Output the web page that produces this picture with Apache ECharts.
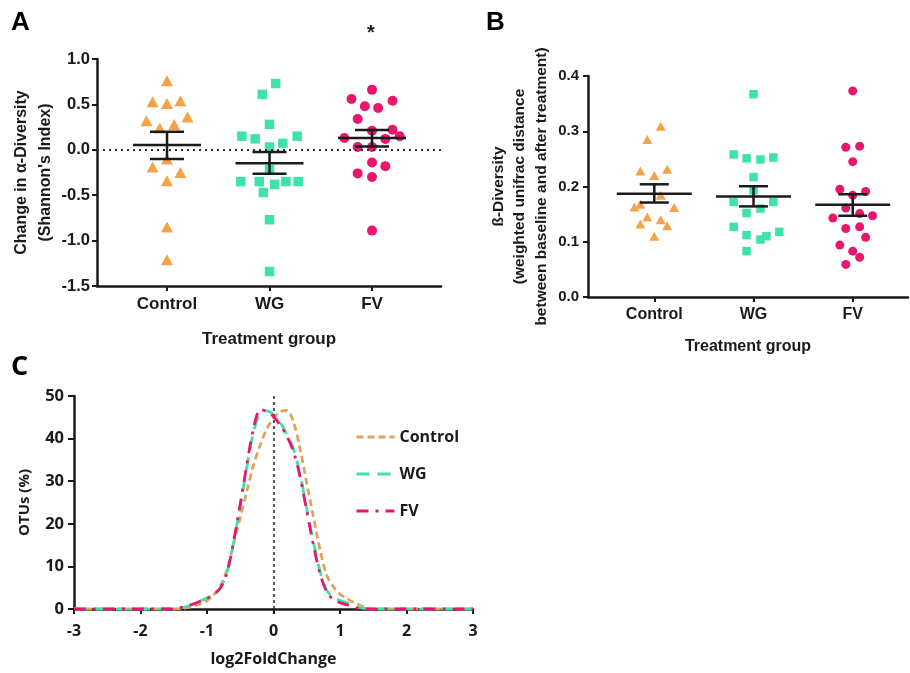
<!DOCTYPE html>
<html>
<head>
<meta charset="utf-8">
<script src="https://cdn.jsdelivr.net/npm/echarts@6/dist/echarts.min.js"></script>
<style>
  html, body { margin: 0; padding: 0; background: #fff; }
  #chart { width: 910px; height: 673px; }
</style>
</head>
<body>
<div id="chart"></div>
<script>
// groups on the x axis of panels A and B
const groups = ['Control', 'WG', 'FV']

// panel A: change in alpha diversity, one value per subject, jitter = horizontal spread in the swarm
const controlA = [0.76, 0.53, 0.51, 0.54, 0.32, 0.36, 0.24, 0.28, -0.10, -0.19, -0.25, -0.34, -0.85, -1.21]
const controlAJitter = [0, -0.14, 0, 0.13, -0.2, 0.2, -0.07, 0.07, 0, -0.14, 0.13, 0, 0, 0]
const wgA = [0.73, 0.61, 0.28, 0.15, 0.12, 0.15, 0.07, 0.03, -0.22, -0.35, -0.35, -0.35, -0.35, -0.38, -0.47, -0.77, -1.34]
const wgAJitter = [0.06, -0.07, 0, -0.27, -0.14, 0.27, 0.13, 0, 0, -0.28, -0.1, 0.16, 0.28, 0.05, -0.06, 0, 0]
const fvA = [0.66, 0.56, 0.54, 0.48, 0.46, 0.34, 0.21, 0.22, 0.15, 0.13, 0.12, 0.03, 0.03, -0.14, -0.18, -0.26, -0.30, -0.89]
const fvAJitter = [0, -0.2, 0.2, -0.07, 0.06, -0.14, 0, 0.2, 0.27, -0.27, 0.13, -0.14, 0, 0, 0.13, -0.14, 0, 0]
const meanA = [0.052, -0.147, 0.129]
const semLowA = [-0.10, -0.264, 0.036]
const semHighA = [0.198, -0.025, 0.217]
const ticksA = [-1.5, -1.0, -0.5, 0.0, 0.5, 1.0]

// panel B: beta diversity
const controlB = [0.309, 0.285, 0.228, 0.231, 0.22, 0.184, 0.163, 0.168, 0.162, 0.145, 0.14, 0.132, 0.129, 0.11]
const controlBJitter = [0.065, -0.07, -0.14, 0.13, 0, 0.065, -0.2, -0.14, 0.2, -0.07, 0.065, -0.14, 0.13, 0]
const wgB = [0.367, 0.258, 0.251, 0.249, 0.2525, 0.217, 0.193, 0.172, 0.172, 0.152, 0.16, 0.127, 0.118, 0.112, 0.104, 0.11, 0.083]
const wgBJitter = [0, -0.2, -0.07, 0.07, 0.2, 0, 0, -0.2, 0.2, -0.07, 0.07, -0.2, 0.26, -0.07, 0.07, 0.13, -0.07]
const fvB = [0.373, 0.271, 0.273, 0.245, 0.195, 0.191, 0.184, 0.161, 0.151, 0.143, 0.147, 0.124, 0.127, 0.108, 0.094, 0.083, 0.072, 0.059]
const fvBJitter = [0, -0.07, 0.07, 0, -0.13, 0.13, 0, -0.07, 0.07, -0.2, 0.2, -0.07, 0.07, 0.13, -0.13, 0, 0.07, -0.07]
const meanB = [0.187, 0.182, 0.167]
const semLowB = [0.171, 0.164, 0.147]
const semHighB = [0.204, 0.2005, 0.186]

// panel C: OTU distribution over log2 fold change
const foldC = [-3, -2, -1.5, -1.4, -1.3, -1.2, -1.1, -1.0, -0.9, -0.8, -0.7, -0.6, -0.5, -0.4, -0.3, -0.2, -0.1, 0,
  0.1, 0.2, 0.3, 0.4, 0.5, 0.6, 0.7, 0.8, 0.9, 1.0, 1.1, 1.2, 1.3, 1.4, 1.5, 2, 3]
const controlC = [0, 0, 0, 0.1, 0.3, 0.7, 1.2, 2.0, 3.3, 5.3, 9.2, 15.2, 21.5, 27.7, 33.8, 38.5, 42.3, 44.8,
  46.3, 46.6, 44.0, 37.5, 29.5, 21.6, 13.9, 7.9, 5.2, 3.5, 2.5, 1.6, 0.9, 0.2, 0, 0, 0]
const wgC = [0, 0, 0, 0.2, 0.6, 1.2, 1.9, 2.6, 3.4, 4.9, 8.6, 15.6, 24.2, 33.4, 41.6, 46.0, 46.5, 45.6,
  43.8, 41.0, 37.6, 31.6, 23.6, 15.8, 8.9, 4.4, 2.8, 2.0, 1.5, 0.8, 0.3, 0.1, 0, 0, 0]
const fvC = [0, 0, 0, 0.3, 0.7, 1.2, 1.8, 2.5, 3.4, 4.9, 8.5, 15.8, 24.6, 34.0, 42.4, 46.8, 46.4, 45.2,
  43.2, 40.6, 37.0, 31.0, 23.0, 15.0, 8.3, 4.0, 2.2, 1.5, 1.0, 0.5, 0.1, 0, 0, 0, 0]

const ORANGE = '#f4a347'
const TEAL = '#3fe3a9'
const PINK = '#e9166e'
const INK = '#1a1a1a'
const ARIAL = 'Liberation Sans'
const CALIBRI = 'Open Sans'

function swarm(values, jitter, groupIndex) {
  return values.map((v, i) => [groupIndex + jitter[i], v])
}

function meanSemItems(mean, low, high) {
  return mean.map((m, i) => [i, m, low[i], high[i]])
}

function meanSemRender(halfMean, halfCap) {
  return function(params, api) {
    const x = api.value(0)
    const pm = api.coord([x, api.value(1)])
    const pl = api.coord([x, api.value(2)])
    const ph = api.coord([x, api.value(3)])
    const style = { stroke: INK, lineWidth: 2.5 }
    return {
      type: 'group',
      children: [
        { type: 'line', shape: { x1: pm[0] - halfMean, y1: pm[1], x2: pm[0] + halfMean, y2: pm[1] }, style },
        { type: 'line', shape: { x1: pl[0] - halfCap, y1: pl[1], x2: pl[0] + halfCap, y2: pl[1] }, style },
        { type: 'line', shape: { x1: ph[0] - halfCap, y1: ph[1], x2: ph[0] + halfCap, y2: ph[1] }, style },
        { type: 'line', shape: { x1: pl[0], y1: pl[1], x2: ph[0], y2: ph[1] }, style }
      ]
    }
  }
}

const axisLine = { show: true, onZero: false, lineStyle: { color: INK, width: 2.5 } }
const axisTick = { show: true, length: 5, lineStyle: { color: INK, width: 2 } }

function groupAxis(gridIndex, min, max, nameGap, fontSize) {
  return {
    type: 'value',
    gridIndex: gridIndex,
    min: min,
    max: max,
    name: 'Treatment group',
    nameLocation: 'middle',
    nameGap: nameGap,
    nameTextStyle: { fontFamily: ARIAL, fontWeight: 'bold', fontSize: fontSize, color: INK },
    axisLine: axisLine,
    axisTick: Object.assign({ customValues: [0, 1, 2] }, axisTick),
    axisLabel: {
      customValues: [0, 1, 2],
      formatter: v => groups[Math.round(v)],
      margin: 10,
      fontFamily: ARIAL,
      fontWeight: 'bold',
      fontSize: fontSize,
      color: INK
    },
    splitLine: { show: false }
  }
}

const chart = echarts.init(document.getElementById('chart'))

chart.setOption({
  animation: false,
  backgroundColor: '#fff',
  grid: [
    { left: 97, right: 469, top: 59, bottom: 387 },
    { left: 588, right: 2, top: 76, bottom: 376 },
    { left: 74, right: 437, top: 396, bottom: 64 }
  ],
  legend: {
    data: ['Control', 'WG', 'FV'],
    orient: 'vertical',
    left: 350,
    top: 424,
    itemWidth: 38,
    itemHeight: 14,
    itemGap: 21,
    itemStyle: { opacity: 0 },
    lineStyle: { width: 3 },
    textStyle: { fontFamily: CALIBRI, fontWeight: 'bold', fontSize: 16, color: INK }
  },
  graphic: [
    { type: 'text', left: 11, top: 10, style: { text: 'A', font: 'bold 26px "Liberation Sans"', fill: '#000' } },
    { type: 'text', left: 486, top: 10, style: { text: 'B', font: 'bold 26px "Liberation Sans"', fill: '#000' } },
    { type: 'text', left: 11, top: 354, style: { text: 'C', font: 'bold 27px "Open Sans"', fill: '#000' } },
    { type: 'text', left: 367, top: 23, style: { text: '*', font: 'bold 20px "Liberation Sans"', fill: INK } }
  ],
  xAxis: [
    groupAxis(0, -0.683, 2.673, 45, 17),
    groupAxis(1, -0.668, 2.557, 42, 16),
    {
      type: 'value',
      gridIndex: 2,
      min: -3,
      max: 3,
      interval: 1,
      name: 'log2FoldChange',
      nameLocation: 'middle',
      nameGap: 42,
      nameTextStyle: { fontFamily: CALIBRI, fontWeight: 'bold', fontSize: 16, color: INK },
      axisLine: axisLine,
      axisTick: axisTick,
      axisLabel: { margin: 14, fontFamily: CALIBRI, fontWeight: 'bold', fontSize: 16, color: INK },
      splitLine: { show: false }
    }
  ],
  yAxis: [
    {
      type: 'value',
      gridIndex: 0,
      min: -1.5,
      max: 1.0,
      interval: 0.5,
      name: 'Change in \u03b1-Diversity\n(Shannon\'s Index)',
      nameLocation: 'middle',
      nameGap: 39,
      nameTextStyle: { fontFamily: ARIAL, fontWeight: 'bold', fontSize: 16, lineHeight: 24, color: INK },
      axisLine: axisLine,
      axisTick: axisTick,
      axisLabel: {
        customValues: ticksA,
        formatter: v => v.toFixed(1),
        margin: 7,
        fontFamily: ARIAL,
        fontWeight: 'bold',
        fontSize: 16.5,
        color: INK
      },
      splitLine: { show: false }
    },
    {
      type: 'value',
      gridIndex: 1,
      min: 0,
      max: 0.4,
      interval: 0.1,
      name: '\u00df-Diversity\n(weighted unifrac distance\nbetween baseline and after treatment)',
      nameLocation: 'middle',
      nameGap: 36,
      nameTextStyle: { fontFamily: ARIAL, fontWeight: 'bold', fontSize: 15.5, lineHeight: 21.5, color: INK },
      axisLine: axisLine,
      axisTick: axisTick,
      axisLabel: {
        formatter: v => v.toFixed(1),
        margin: 9,
        fontFamily: ARIAL,
        fontWeight: 'bold',
        fontSize: 15,
        color: INK
      },
      splitLine: { show: false }
    },
    {
      type: 'value',
      gridIndex: 2,
      min: 0,
      max: 50,
      interval: 10,
      name: 'OTUs (%)',
      nameLocation: 'middle',
      nameGap: 42,
      nameTextStyle: { fontFamily: CALIBRI, fontWeight: 'bold', fontSize: 15, color: INK },
      axisLine: axisLine,
      axisTick: { show: true, length: 6, lineStyle: { color: INK, width: 2 } },
      axisLabel: { margin: 10, fontFamily: CALIBRI, fontWeight: 'bold', fontSize: 16.5, color: INK },
      splitLine: { show: false }
    }
  ],
  series: [
    // panel A
    {
      name: 'Control A',
      type: 'scatter',
      xAxisIndex: 0,
      yAxisIndex: 0,
      symbol: 'triangle',
      symbolSize: [12, 11],
      itemStyle: { color: ORANGE, opacity: 1 },
      data: swarm(controlA, controlAJitter, 0),
      markLine: {
        silent: true,
        symbol: 'none',
        label: { show: false },
        lineStyle: { color: '#333', width: 2, type: [2, 4] },
        data: [{ yAxis: 0 }]
      },
      z: 3
    },
    {
      name: 'WG A',
      type: 'scatter',
      xAxisIndex: 0,
      yAxisIndex: 0,
      symbol: 'rect',
      symbolSize: 9.5,
      itemStyle: { color: TEAL, opacity: 1 },
      data: swarm(wgA, wgAJitter, 1),
      z: 3
    },
    {
      name: 'FV A',
      type: 'scatter',
      xAxisIndex: 0,
      yAxisIndex: 0,
      symbol: 'circle',
      symbolSize: 10,
      itemStyle: { color: PINK, opacity: 1 },
      data: swarm(fvA, fvAJitter, 2),
      z: 3
    },
    {
      name: 'Mean A',
      type: 'custom',
      xAxisIndex: 0,
      yAxisIndex: 0,
      renderItem: meanSemRender(34, 17),
      encode: { x: 0, y: [1, 2, 3] },
      data: meanSemItems(meanA, semLowA, semHighA),
      z: 5
    },
    // panel B
    {
      name: 'Control B',
      type: 'scatter',
      xAxisIndex: 1,
      yAxisIndex: 1,
      symbol: 'triangle',
      symbolSize: [10, 9],
      itemStyle: { color: ORANGE, opacity: 1 },
      data: swarm(controlB, controlBJitter, 0),
      z: 3
    },
    {
      name: 'WG B',
      type: 'scatter',
      xAxisIndex: 1,
      yAxisIndex: 1,
      symbol: 'rect',
      symbolSize: 8.5,
      itemStyle: { color: TEAL, opacity: 1 },
      data: swarm(wgB, wgBJitter, 1),
      z: 3
    },
    {
      name: 'FV B',
      type: 'scatter',
      xAxisIndex: 1,
      yAxisIndex: 1,
      symbol: 'circle',
      symbolSize: 9,
      itemStyle: { color: PINK, opacity: 1 },
      data: swarm(fvB, fvBJitter, 2),
      z: 3
    },
    {
      name: 'Mean B',
      type: 'custom',
      xAxisIndex: 1,
      yAxisIndex: 1,
      renderItem: meanSemRender(37.5, 14.5),
      encode: { x: 0, y: [1, 2, 3] },
      data: meanSemItems(meanB, semLowB, semHighB),
      z: 5
    },
    // panel C
    {
      name: 'Control',
      type: 'line',
      xAxisIndex: 2,
      yAxisIndex: 2,
      smooth: 0.3,
      symbol: 'none',
      lineStyle: { color: '#e0a458', width: 2.8, type: [7, 4] },
      itemStyle: { color: '#e0a458' },
      data: foldC.map((x, i) => [x, controlC[i]]),
      markLine: {
        silent: true,
        symbol: 'none',
        label: { show: false },
        lineStyle: { color: '#222', width: 1.5, type: [3, 3] },
        data: [{ xAxis: 0 }]
      },
      z: 3
    },
    {
      name: 'WG',
      type: 'line',
      xAxisIndex: 2,
      yAxisIndex: 2,
      smooth: 0.3,
      symbol: 'none',
      lineStyle: { color: TEAL, width: 2.8, type: [13, 8] },
      itemStyle: { color: TEAL },
      data: foldC.map((x, i) => [x, wgC[i]]),
      z: 4
    },
    {
      name: 'FV',
      type: 'line',
      xAxisIndex: 2,
      yAxisIndex: 2,
      smooth: 0.3,
      symbol: 'none',
      lineStyle: { color: PINK, width: 2.8, type: [12, 7, 3, 7] },
      itemStyle: { color: PINK },
      data: foldC.map((x, i) => [x, fvC[i]]),
      z: 5
    }
  ]
})
</script>
</body>
</html>
